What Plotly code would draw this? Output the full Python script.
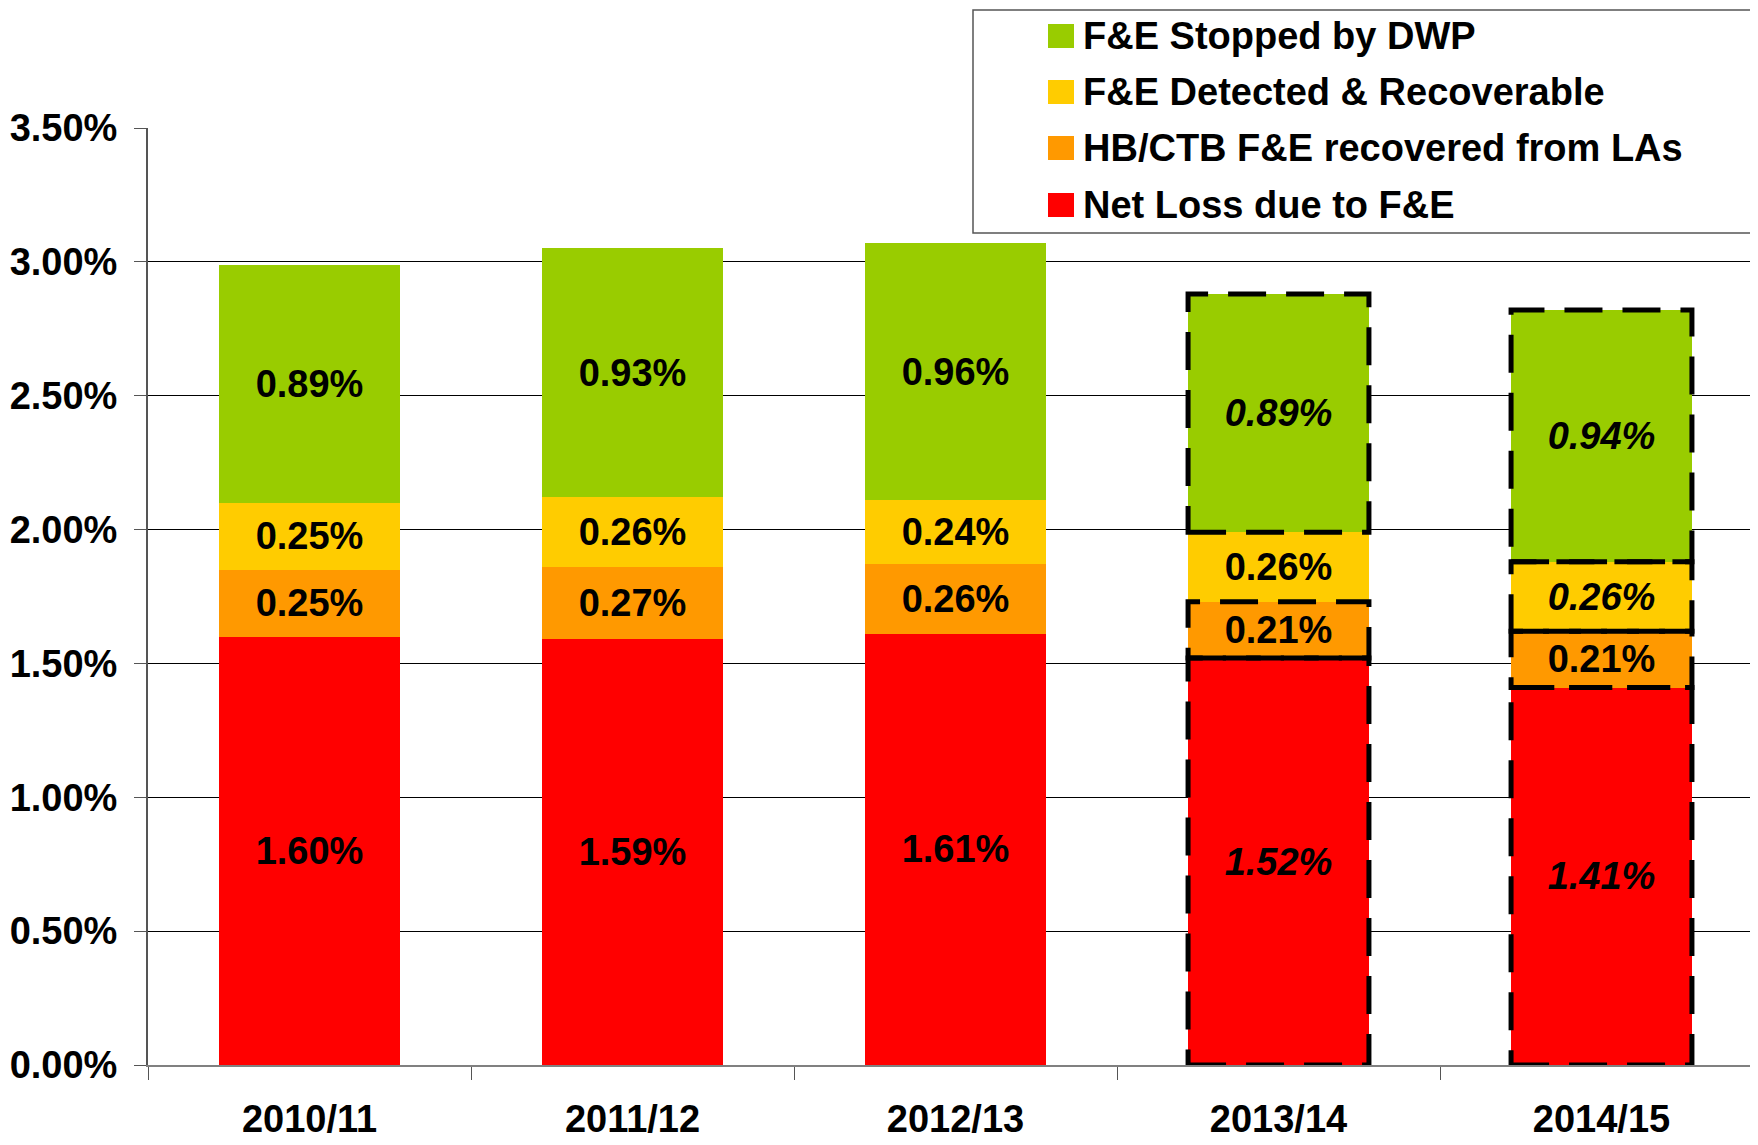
import plotly.graph_objects as go

categories = ["2010/11", "2011/12", "2012/13", "2013/14", "2014/15"]
net_loss = [1.60, 1.59, 1.61, 1.52, 1.41]
hb_ctb = [0.25, 0.27, 0.26, 0.21, 0.21]
detected = [0.25, 0.26, 0.24, 0.26, 0.26]
stopped = [0.89, 0.93, 0.96, 0.89, 0.94]

series_names = ["Net Loss due to F&E", "HB/CTB F&E recovered from LAs",
                "F&E Detected & Recoverable", "F&E Stopped by DWP"]
series_values = [net_loss, hb_ctb, detected, stopped]
series_colors = ["#FF0000", "#FF9900", "#FFCC00", "#99CC00"]
# projected values shown in italics / dashed outline
italic_flags = [[0, 0, 0, 1, 1], [0, 0, 0, 0, 0], [0, 0, 0, 0, 1], [0, 0, 0, 1, 1]]
outline_flags = [[0, 0, 0, 1, 1], [0, 0, 0, 1, 1], [0, 0, 0, 0, 1], [0, 0, 0, 1, 1]]
y_ticks = [0, 0.5, 1.0, 1.5, 2.0, 2.5, 3.0, 3.5]

FONT = "Arial, Liberation Sans, sans-serif"
BAR_W = 0.56
OFF = 8  # default page margin of the html body
W, H = 1758 - OFF, 1145 - OFF
ML, MR, MT, MB = 148 - OFF, 0, 128 - OFF, 80

fig = go.Figure()
for name, vals, col, ital in zip(series_names, series_values, series_colors, italic_flags):
    labels = [("<i>%.2f%%</i>" % v) if it else ("%.2f%%" % v) for v, it in zip(vals, ital)]
    fig.add_trace(go.Bar(
        x=categories, y=vals, name=name, marker=dict(color=col, line=dict(width=0)),
        width=BAR_W, text=labels, textposition="inside", insidetextanchor="middle",
        textangle=0, constraintext="none",
        textfont=dict(family=FONT, size=38, color="black", weight="bold"),
        showlegend=False, hoverinfo="skip",
    ))

# dashed outlines around projected segments
shapes = []
base = [0.0] * len(categories)
for vals, flags in zip(series_values, outline_flags):
    for i, (v, f) in enumerate(zip(vals, flags)):
        if f:
            shapes.append(dict(type="rect", xref="x", yref="y",
                               x0=i - BAR_W / 2, x1=i + BAR_W / 2, y0=base[i], y1=base[i] + v,
                               line=dict(color="black", width=5, dash="38px,20px"),
                               fillcolor="rgba(0,0,0,0)", layer="above"))
    base = [b + v for b, v in zip(base, vals)]

# manual legend (page pixel -> paper conversion)
pw, ph = W - ML - MR, H - MT - MB
def px_x(x):
    return (x - OFF - ML) / pw
def px_y(y):
    return (H - MB - (y - OFF)) / ph

shapes.append(dict(type="rect", xref="paper", yref="paper",
                   x0=px_x(973), x1=px_x(1753), y0=px_y(233), y1=px_y(10),
                   line=dict(color="#555555", width=1.5), fillcolor="white", layer="above"))
annotations = []
row_y = [36, 92, 148, 205]
for k, idx in enumerate([3, 2, 1, 0]):
    yc = row_y[k]
    shapes.append(dict(type="rect", xref="paper", yref="paper",
                       x0=px_x(1048), x1=px_x(1074), y0=px_y(yc + 12), y1=px_y(yc - 12),
                       line=dict(width=0), fillcolor=series_colors[idx], layer="above"))
    annotations.append(dict(xref="paper", yref="paper", x=px_x(1081), y=px_y(yc),
                            xanchor="left", yanchor="middle", showarrow=False,
                            text=series_names[idx],
                            font=dict(family=FONT, size=38, color="black", weight="bold")))

fig.update_layout(
    width=W, height=H, margin=dict(l=ML, r=MR, t=MT, b=MB, pad=0),
    barmode="stack", plot_bgcolor="white", paper_bgcolor="white",
    shapes=shapes, annotations=annotations, showlegend=False,
    xaxis=dict(type="category", range=[-0.5, -0.5 + pw / 323.0],
               tickson="boundaries",
               showgrid=False, showline=True, linecolor="#808080", linewidth=2,
               ticks="outside", ticklen=13, tickcolor="#555555", tickwidth=1,
               tickfont=dict(family=FONT, size=38, color="black", weight="bold"),
               ticklabelstandoff=19, zeroline=False),
    yaxis=dict(range=[0, 3.5], tickmode="array", tickvals=y_ticks,
               ticktext=["%.2f%%" % t for t in y_ticks],
               showgrid=True, gridcolor="black", gridwidth=1.2,
               showline=True, linecolor="#555555", linewidth=2,
               ticks="outside", ticklen=12, tickcolor="#555555", tickwidth=1,
               tickfont=dict(family=FONT, size=38, color="black", weight="bold"),
               ticklabelstandoff=9, zeroline=False),
)

fig.write_html("out.html")
